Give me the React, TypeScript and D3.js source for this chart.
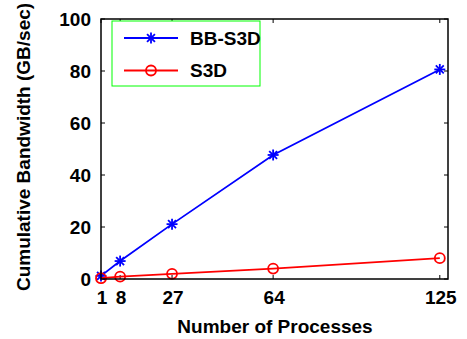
import React, { useRef, useEffect } from 'react';
import * as d3 from 'd3';

const processes = [1, 8, 27, 64, 125];
const bbS3D = [1.2, 6.9, 21.1, 47.7, 80.6];
const s3d = [0.3, 0.9, 2.0, 4.0, 8.0];
const yTicks = [0, 20, 40, 60, 80, 100];

const W = 467;
const H = 339;
const margin = { top: 19, right: 19, bottom: 60, left: 101 };

const App = () => {
  const svgRef = useRef<SVGSVGElement | null>(null);

  useEffect(() => {
    if (!svgRef.current) return;
    const root = d3.select(svgRef.current);
    root.selectAll('*').remove();

    const innerW = W - margin.left - margin.right;
    const innerH = H - margin.top - margin.bottom;
    const font = '"Liberation Sans", Arial, Helvetica, sans-serif';
    const fs = 19;

    const x = d3.scaleLinear().domain([1, 128]).range([0, innerW]);
    const y = d3.scaleLinear().domain([0, 100]).range([innerH, 0]);

    const g = root.append('g').attr('transform', `translate(${margin.left},${margin.top})`);

    // inward ticks on all four sides (box on)
    const tk = 4;
    const ticks = g.append('g').attr('stroke', '#000').attr('stroke-width', 1);
    processes.forEach(p => {
      ticks.append('line').attr('x1', x(p)).attr('x2', x(p)).attr('y1', innerH).attr('y2', innerH - tk);
      ticks.append('line').attr('x1', x(p)).attr('x2', x(p)).attr('y1', 0).attr('y2', tk);
    });
    yTicks.forEach(v => {
      ticks.append('line').attr('x1', 0).attr('x2', tk).attr('y1', y(v)).attr('y2', y(v));
      ticks.append('line').attr('x1', innerW).attr('x2', innerW - tk).attr('y1', y(v)).attr('y2', y(v));
    });

    // tick labels
    g.append('g')
      .selectAll('text')
      .data(yTicks)
      .enter()
      .append('text')
      .attr('x', -10)
      .attr('y', d => y(d))
      .attr('dy', '0.36em')
      .attr('text-anchor', 'end')
      .attr('font-family', font)
      .attr('font-weight', 'bold')
      .attr('font-size', fs)
      .text(d => d);

    g.append('g')
      .selectAll('text')
      .data(processes)
      .enter()
      .append('text')
      .attr('x', d => x(d) + 1)
      .attr('y', innerH + 25)
      .attr('text-anchor', 'middle')
      .attr('font-family', font)
      .attr('font-weight', 'bold')
      .attr('font-size', fs)
      .text(d => d);

    // lines
    const line = d3.line<number>()
      .x((_, i) => x(processes[i]))
      .y(d => y(d));

    const drawStar = (sel: any, cx: number, cy: number, color: string) => {
      const r = 5.5;
      const s = sel.append('g').attr('stroke', color).attr('stroke-width', 1.8);
      s.append('line').attr('x1', cx - r).attr('x2', cx + r).attr('y1', cy).attr('y2', cy);
      s.append('line').attr('x1', cx).attr('x2', cx).attr('y1', cy - r).attr('y2', cy + r);
      s.append('line').attr('x1', cx - r * 0.72).attr('x2', cx + r * 0.72).attr('y1', cy - r * 0.72).attr('y2', cy + r * 0.72);
      s.append('line').attr('x1', cx - r * 0.72).attr('x2', cx + r * 0.72).attr('y1', cy + r * 0.72).attr('y2', cy - r * 0.72);
    };
    const drawCircle = (sel: any, cx: number, cy: number, color: string) => {
      sel.append('circle').attr('cx', cx).attr('cy', cy).attr('r', 5)
        .attr('fill', 'none').attr('stroke', color).attr('stroke-width', 1.8);
    };

    g.append('path').datum(bbS3D).attr('d', line)
      .attr('fill', 'none').attr('stroke', '#0000ff').attr('stroke-width', 1.8);
    bbS3D.forEach((v, i) => drawStar(g, x(processes[i]), y(v), '#0000ff'));

    g.append('path').datum(s3d).attr('d', line)
      .attr('fill', 'none').attr('stroke', '#ff0000').attr('stroke-width', 1.8);
    s3d.forEach((v, i) => drawCircle(g, x(processes[i]), y(v), '#ff0000'));

    // axes box
    g.append('rect').attr('x', 0).attr('y', 0).attr('width', innerW).attr('height', innerH)
      .attr('fill', 'none').attr('stroke', '#000').attr('stroke-width', 1.5);

    // legend
    const lg = root.append('g').attr('transform', 'translate(112,21)');
    lg.append('rect').attr('width', 148).attr('height', 65)
      .attr('fill', '#fff').attr('stroke', '#00ff00').attr('stroke-width', 1);
    const items = [
      { label: 'BB-S3D', color: '#0000ff', type: 'star' },
      { label: 'S3D', color: '#ff0000', type: 'circle' },
    ];
    items.forEach((it, i) => {
      const cy = 17 + i * 32.5;
      lg.append('line').attr('x1', 12).attr('x2', 66).attr('y1', cy).attr('y2', cy)
        .attr('stroke', it.color).attr('stroke-width', 1.8);
      if (it.type === 'star') drawStar(lg, 39, cy, it.color);
      else drawCircle(lg, 39, cy, it.color);
      lg.append('text').attr('x', 78).attr('y', cy).attr('dy', '0.36em')
        .attr('font-family', font).attr('font-weight', 'bold').attr('font-size', fs)
        .text(it.label);
    });

    // axis titles
    root.append('text')
      .attr('x', 275)
      .attr('y', 333)
      .attr('text-anchor', 'middle')
      .attr('font-family', font).attr('font-weight', 'bold').attr('font-size', fs)
      .text('Number of Processes');

    root.append('text')
      .attr('transform', 'translate(29.5,147) rotate(-90)')
      .attr('text-anchor', 'middle')
      .attr('font-family', font).attr('font-weight', 'bold').attr('font-size', fs)
      .text('Cumulative Bandwidth (GB/sec)');
  }, []);

  return (
    <svg ref={svgRef} width={W} height={H}
      style={{ position: 'absolute', left: 0, top: 0, background: '#fff' }} />
  );
};

export default App;
